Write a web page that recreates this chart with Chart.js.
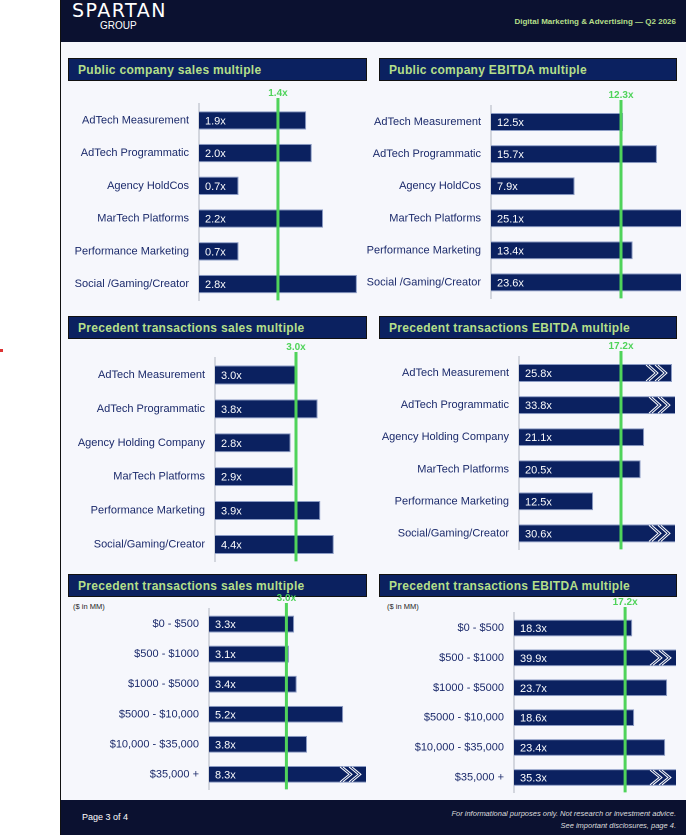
<!DOCTYPE html>
<html><head><meta charset="utf-8">
<script src="https://cdn.jsdelivr.net/npm/chart.js@4"></script>
<style>
body{margin:0;width:686px;height:835px;position:relative;background:#fff;font-family:Arial,"Liberation Sans",sans-serif;overflow:hidden}
#page{position:absolute;left:60px;top:0;width:626px;height:835px;background:#f6f7fc;border-left:1px solid #111}
.hdr{position:absolute;left:61px;width:625px;background:#0b1130}
.title{position:absolute;height:23px;background:#0b2160;border:1px solid #111;color:#b4df8a;font-weight:bold;font-size:12px;letter-spacing:0.3px;line-height:23px;padding-left:9px;box-sizing:border-box}
canvas{position:absolute}
.t{position:absolute;white-space:nowrap}
</style></head><body>
<div id="page"></div>
<div class="hdr" style="top:0;height:42px"></div>
<div class="hdr" style="top:800px;height:35px"></div>
<div class="t" style="left:72px;top:-1px;color:#fff;font-size:19px;letter-spacing:1.5px;font-family:'DejaVu Sans'">SPARTAN</div>
<div class="t" style="left:100px;top:20px;color:#fff;font-size:10px">GROUP</div>
<div class="t" style="right:10px;top:17px;color:#b4df8a;font-size:8px;font-weight:bold">Digital Marketing &amp; Advertising — Q2 2026</div>
<div class="t" style="left:82px;top:812px;color:#fff;font-size:9px">Page 3 of 4</div>
<div class="t" style="right:10px;top:808px;color:#ddd;font-size:7.5px;font-style:italic;text-align:right;line-height:12px">For informational purposes only. Not research or investment advice.<br>See important disclosures, page 4.</div>
<div class="t" style="left:0;top:349px;width:3px;height:3px;background:#d33"></div>
<div class="title" style="left:68px;top:58px;width:299px">Public company sales multiple</div>
<div class="title" style="left:379px;top:58px;width:298px">Public company EBITDA multiple</div>
<div class="title" style="left:68px;top:316px;width:299px">Precedent transactions sales multiple</div>
<div class="title" style="left:379px;top:316px;width:298px">Precedent transactions EBITDA multiple</div>
<div class="title" style="left:68px;top:574px;width:299px">Precedent transactions sales multiple</div>
<div class="title" style="left:379px;top:574px;width:298px">Precedent transactions EBITDA multiple</div>
<div class="t" style="left:73px;top:602px;font-size:7.5px;color:#222">($ in MM)</div>
<div class="t" style="left:387px;top:602px;font-size:7.5px;color:#222">($ in MM)</div>
<script>
const segLabels = ["AdTech Measurement","AdTech Programmatic","Agency HoldCos","MarTech Platforms","Performance Marketing","Social /Gaming/Creator"];
const publicSales = [1.9,2.0,0.7,2.2,0.7,2.8];
const publicSalesMedian = 1.4;
const publicEbitda = [12.5,15.7,7.9,25.1,13.4,23.6];
const publicEbitdaMedian = 12.3;
const precLabels = ["AdTech Measurement","AdTech Programmatic","Agency Holding Company","MarTech Platforms","Performance Marketing","Social/Gaming/Creator"];
const precSales = [3.0,3.8,2.8,2.9,3.9,4.4];
const precSalesMedian = 3.0;
const precEbitda = [25.8,33.8,21.1,20.5,12.5,30.6];
const precEbitdaMedian = 17.2;
const sizeLabels = ["$0 - $500","$500 - $1000","$1000 - $5000","$5000 - $10,000","$10,000 - $35,000","$35,000 +"];
const sizeSales = [3.3,3.1,3.4,5.2,3.8,8.3];
const sizeSalesMedian = 3.0;
const sizeEbitda = [18.3,39.9,23.7,18.6,23.4,35.3];
const sizeEbitdaMedian = 17.2;

const panels = [
 {cl:62,x0:199,x1:358,yTop:102,yBot:298,ppx:56.4,labels:segLabels,values:publicSales,median:publicSalesMedian,chevMin:99},
 {cl:362,x0:491,x1:681,yTop:104,yBot:296,ppx:10.57,labels:segLabels,values:publicEbitda,median:publicEbitdaMedian,chevMin:99},
 {cl:62,x0:215,x1:340,yTop:356,yBot:559,ppx:27,labels:precLabels,values:precSales,median:precSalesMedian,chevMin:99},
 {cl:362,x0:519,x1:675,yTop:355,yBot:547,ppx:5.93,labels:precLabels,values:precEbitda,median:precEbitdaMedian,chevMin:25},
 {cl:62,x0:209,x1:366,yTop:607,yBot:787,ppx:25.8,labels:sizeLabels,values:sizeSales,median:sizeSalesMedian,chevMin:6},
 {cl:362,x0:514,x1:676,yTop:611,yBot:790,ppx:6.46,labels:sizeLabels,values:sizeEbitda,median:sizeEbitdaMedian,chevMin:25}
];

const overlay = {
 id:'overlay',
 afterDatasetsDraw(chart,args,o){
  const c=chart.ctx, xs=chart.scales.x, a=chart.chartArea, meta=chart.getDatasetMeta(0);
  const vals=chart.data.datasets[0].data;
  meta.data.forEach((b,i)=>{
   const h=b.height;
   c.save();
   c.fillStyle='#fff';c.font='11px Arial';c.textBaseline='middle';c.textAlign='left';
   c.fillText(vals[i].toFixed(1)+'x',xs.getPixelForValue(0)+6,b.y+1);
   if(vals[i]>o.chevMin){
     const xe=Math.min(b.x,a.right);
     c.strokeStyle='#fff';c.lineWidth=1;
     [xe-26,xe-17].forEach(x=>{
       c.beginPath();c.moveTo(x,b.y-h/2+1);c.lineTo(x+9,b.y);c.lineTo(x,b.y+h/2-1);
       c.moveTo(x+3,b.y-h/2+1);c.lineTo(x+12,b.y);c.lineTo(x+3,b.y+h/2-1);c.stroke();
     });
   }
   c.restore();
  });
  const mx=xs.getPixelForValue(o.median);
  c.save();
  c.strokeStyle='#4fd35a';c.lineWidth=3;
  c.beginPath();c.moveTo(mx,a.top-6);c.lineTo(mx,a.bottom);c.stroke();
  c.fillStyle='#4fd35a';c.font='bold 10px Arial';c.textAlign='center';c.textBaseline='bottom';
  c.fillText(o.median.toFixed(1)+'x',mx,a.top-6);
  c.restore();
 }
};

panels.forEach(p=>{
 const cv=document.createElement('canvas');
 const W=p.x1-p.cl+4, H=p.yBot-p.yTop+24+15;
 cv.width=W;cv.height=H;
 cv.style.left=p.cl+'px';cv.style.top=(p.yTop-20)+'px';
 cv.style.width=W+'px';cv.style.height=H+'px';
 document.body.appendChild(cv);
 new Chart(cv,{type:'bar',
  data:{labels:p.labels,datasets:[{data:p.values,backgroundColor:'#0b2160',borderColor:'#8b9bc4',borderWidth:{top:1,right:1,bottom:1,left:0},borderSkipped:false,barPercentage:0.56,categoryPercentage:1}]},
  options:{indexAxis:'y',responsive:false,animation:false,devicePixelRatio:2,
   layout:{padding:{top:22,right:4,bottom:2,left:0}},
   plugins:{legend:{display:false},tooltip:{enabled:false},overlay:{median:p.median,chevMin:p.chevMin}},
   scales:{
    x:{min:0,max:(p.x1-p.x0)/p.ppx,display:false},
    y:{grid:{display:false,drawTicks:false},border:{color:'#d3d6de',width:2},
       ticks:{color:'#1b2a6b',font:{size:11,family:'Arial'},padding:10},
       afterFit(s){s.width=p.x0-p.cl;}}
   }},
  plugins:[overlay]});
});
</script>
</body></html>
